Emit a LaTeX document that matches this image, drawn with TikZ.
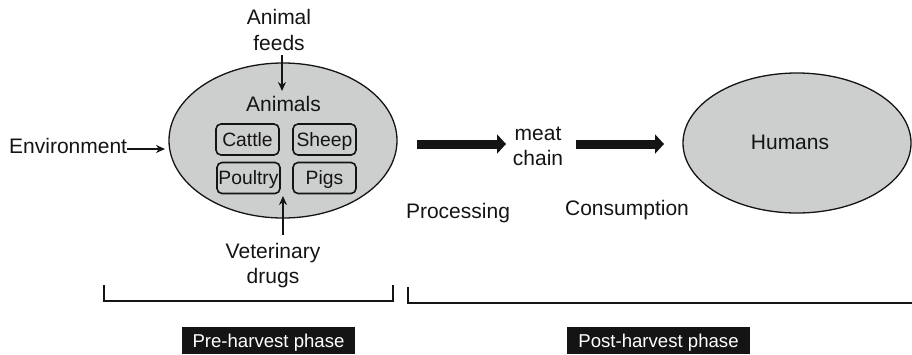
\documentclass[tikz,border=0pt]{standalone}
\usepackage{fontspec}
\setmainfont{Liberation Sans}
\usetikzlibrary{shapes.geometric,arrows.meta}
\definecolor{ellgray}{RGB}{205,207,206}
\definecolor{ink}{RGB}{20,20,20}
\begin{document}
\begin{tikzpicture}[x=1pt,y=-1pt,
  txt/.style={font=\fontsize{21}{25}\selectfont, inner sep=0pt, text=ink, align=center},
  ell/.style={ellipse, draw=ink, line width=1.3pt, fill=ellgray, inner sep=0pt},
  animalbox/.style={draw=ink, line width=1.6pt, rounded corners=5pt, minimum width=63pt, minimum height=31pt, inner sep=0pt, text=ink, font=\fontsize{19.3}{22}\selectfont, text height=13.8pt, text depth=0pt},
  thinarrow/.style={draw=ink, line width=1.6pt, -{Stealth[length=9pt,width=8pt]}},
  bigarrow/.style={draw=ink, line width=9pt, -{Triangle[length=9pt,width=19pt]}},
  bracket/.style={draw=ink, line width=2pt},
  phase/.style={fill=ink, text=white, font=\fontsize{18.6}{22}\selectfont, inner xsep=11pt, inner ysep=0pt, minimum height=27pt, text height=13.5pt, text depth=0pt}
]
\useasboundingbox (0,0) rectangle (912,354);

% ellipses
\node[ell, minimum width=228pt, minimum height=155pt] (animals) at (283,140.5) {};
\node[ell, minimum width=228pt, minimum height=140pt] (humansell) at (797,143) {};

% labels
\node[txt, font=\fontsize{21}{26}\selectfont] (feeds) at (279,29.5) {Animal\\feeds};
\node[txt, anchor=base] (animalslbl) at (283.5,111) {Animals};
\node[txt, anchor=base west] (env) at (9,153) {Environment};
\node[txt] (vet) at (273,265.7) {Veterinary\\drugs};
\node[txt] (meat) at (538,146) {meat\\chain};
\node[txt, anchor=base] (humans) at (790,149) {Humans};
\node[txt, anchor=base] (proc) at (458,218) {Processing};
\node[txt, anchor=base] (cons) at (627,215) {Consumption};

% animal boxes
\node[animalbox] (cattle) at (247.5,139.5) {Cattle};
\node[animalbox] (sheep) at (324.5,139.5) {Sheep};
\node[animalbox] (poultry) at (248.5,178) {Poultry};
\node[animalbox] (pigs) at (324.5,178) {Pigs};

% thin arrows
\coordinate (feedtip) at (282,91);
\draw[thinarrow, shorten <=5pt] (feeds.south -| feedtip) -- (feedtip);
\coordinate (envtip) at (165,149);
\draw[thinarrow] (env.east |- envtip) -- (envtip);
\coordinate (vettip) at (283,196);
\draw[thinarrow] ([yshift=8pt]vet.north -| vettip) -- (vettip);

% big arrows
\coordinate (a1s) at (417,144);
\coordinate (a1e) at (506,144);
\coordinate (a2s) at (576,144);
\coordinate (a2e) at (664,144);
\draw[bigarrow] (a1s) -- (a1e);
\draw[bigarrow] (a2s) -- (a2e);

% brackets
\draw[bracket] (104,285) -- (104,301) -- (393,301) -- (393,285);
\draw[bracket] (408,287) -- (408,303) -- (915,303);

% phase labels
\node[phase] (pre) at (268.5,340.5) {Pre-harvest phase};
\node[phase] (post) at (658.5,340.5) {Post-harvest phase};
\end{tikzpicture}
\end{document}
